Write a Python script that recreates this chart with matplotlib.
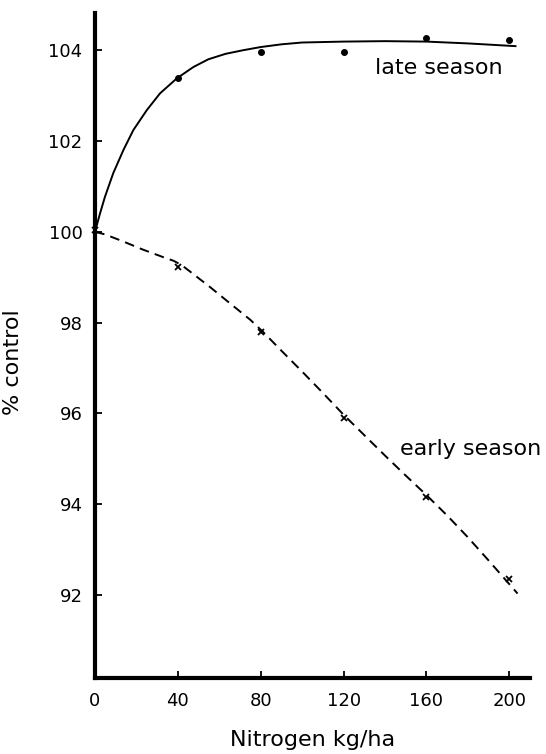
import matplotlib
matplotlib.use('Agg')
import matplotlib.pyplot as plt

# measured points
x_pts = [40, 80, 120, 160, 200]
late_pts = [103.39, 103.96, 103.95, 104.26, 104.22]
early_x = [0, 40, 80, 120, 160, 200]
early_pts = [100.03, 99.23, 97.80, 95.90, 94.16, 92.35]

# fitted curves
late_cx = [0, 2.4, 4.8, 8.8, 13.7, 18.5, 25, 31.4, 39.5, 47.5, 54.7, 63, 71.5, 80, 90, 100,
           120, 140, 160, 180, 203]
late_cy = [100.0, 100.4, 100.77, 101.29, 101.8, 102.24, 102.68, 103.05, 103.38, 103.63, 103.8,
           103.92, 104.0, 104.07, 104.13, 104.17, 104.19, 104.2, 104.19, 104.15, 104.09]
early_cx = [0, 5, 14, 23, 33, 38, 42, 46, 55.6, 65, 75, 81, 90, 100, 110, 120, 130, 140, 150,
            160, 170, 180, 190, 204]
early_cy = [100.0, 99.94, 99.78, 99.61, 99.44, 99.36, 99.26, 99.12, 98.78, 98.43, 98.06, 97.8,
            97.38, 96.92, 96.45, 95.97, 95.52, 95.07, 94.63, 94.2, 93.75, 93.27, 92.76, 92.03]

xticks = [0, 40, 80, 120, 160, 200]
yticks = [92, 94, 96, 98, 100, 102, 104]

plt.rcParams['font.family'] = 'DejaVu Sans'

fig = plt.figure(figsize=(5.46, 7.54), dpi=100)
ax = fig.add_axes([95/546, 1 - 678/754, 435/546, 665/754])

ax.plot(late_cx, late_cy, color='black', lw=1.4)
ax.plot(early_cx, early_cy, color='black', lw=1.4, linestyle=(0, (5, 3.2)))
ax.plot(x_pts, late_pts, 'o', color='black', ms=4)
ax.plot(early_x, early_pts, 'x', color='black', ms=5, mew=1.3, clip_on=False)

ax.text(135.3, 103.47, 'late season', fontsize=16, va='baseline', ha='left')
ax.text(147.3, 95.08, 'early season', fontsize=16, va='baseline', ha='left')

ax.set_xlim(0, 210)
ax.set_ylim(90.17, 104.82)
ax.set_xticks(xticks)
ax.set_yticks(yticks)

for s in ['top', 'right']:
    ax.spines[s].set_visible(False)
for s in ['left', 'bottom']:
    ax.spines[s].set_linewidth(3)

ax.tick_params(direction='in', length=5, width=1.3, labelsize=13)
ax.tick_params(axis='y', pad=9)
ax.tick_params(axis='x', pad=10)

ax.set_xlabel('Nitrogen kg/ha', fontsize=16)
ax.set_ylabel('% control', fontsize=16)
ax.xaxis.set_label_coords(0.5, -0.078)
ax.yaxis.set_label_coords(-0.166, 0.475)

fig.savefig('out.png', dpi=100)
